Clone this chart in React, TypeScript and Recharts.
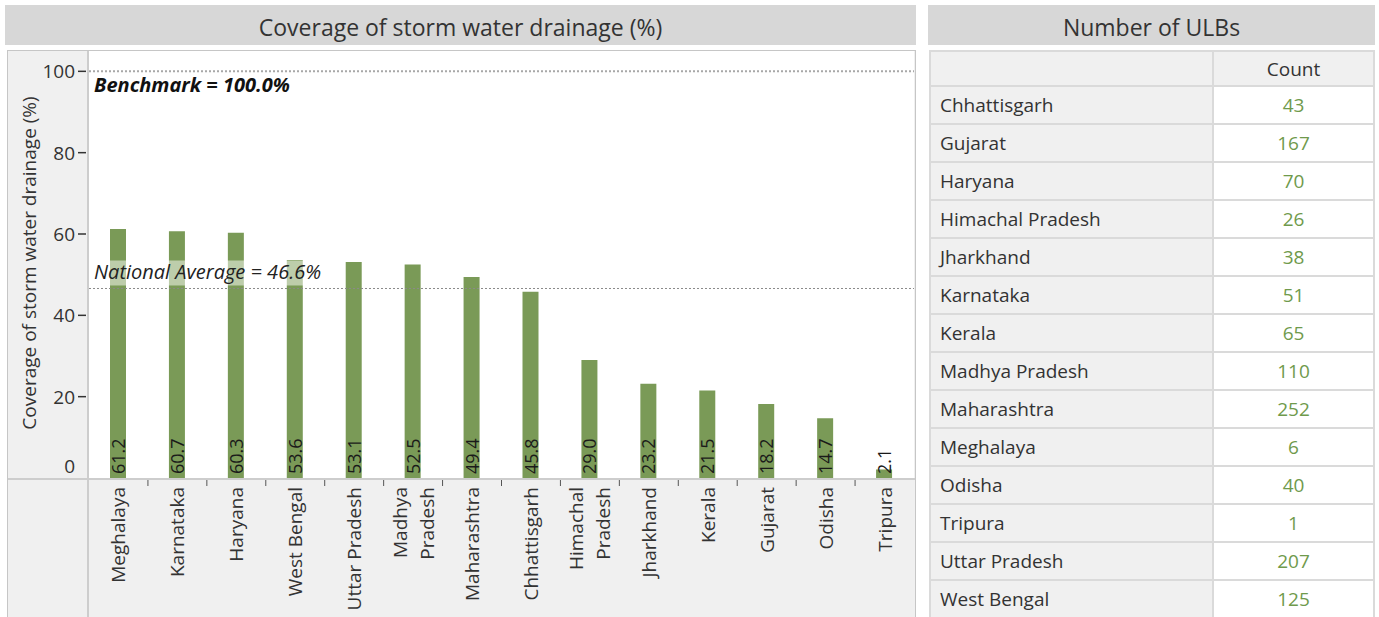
import React from 'react';
import {
  BarChart,
  Bar,
  XAxis,
  YAxis,
  CartesianGrid,
  ReferenceLine,
  LabelList
} from 'recharts';

const states = [
  'Meghalaya', 'Karnataka', 'Haryana', 'West Bengal', 'Uttar Pradesh', 'Madhya Pradesh', 'Maharashtra',
  'Chhattisgarh', 'Himachal Pradesh', 'Jharkhand', 'Kerala', 'Gujarat', 'Odisha', 'Tripura'
];
const stateLabels = [
  'Meghalaya', 'Karnataka', 'Haryana', 'West Bengal', 'Uttar Pradesh', 'Madhya\nPradesh', 'Maharashtra',
  'Chhattisgarh', 'Himachal\nPradesh', 'Jharkhand', 'Kerala', 'Gujarat', 'Odisha', 'Tripura'
];
const coverage = [61.2, 60.7, 60.3, 53.6, 53.1, 52.5, 49.4, 45.8, 29.0, 23.2, 21.5, 18.2, 14.7, 2.1];
const yTicks = [0, 20, 40, 60, 80, 100];
const benchmark = 100;
const nationalAverage = 46.6;

const tableStates = [
  'Chhattisgarh', 'Gujarat', 'Haryana', 'Himachal Pradesh', 'Jharkhand', 'Karnataka', 'Kerala',
  'Madhya Pradesh', 'Maharashtra', 'Meghalaya', 'Odisha', 'Tripura', 'Uttar Pradesh', 'West Bengal'
];
const ulbCounts = [43, 167, 70, 26, 38, 51, 65, 110, 252, 6, 40, 1, 207, 125];

const data = states.map((s, i) => ({ state: s, label: stateLabels[i], coverage: coverage[i] }));

const FONT = "'Segoe UI', 'Open Sans', sans-serif";
const TEXT = '#333333';
const GREEN = '#7a9a57';
const PLOT_W = 825;
const BAND = PLOT_W / states.length;

const StateTick = (props: any) => {
  const { x, index } = props;
  const top = 436;
  const lines = stateLabels[index].split('\n');
  const gap = 27;
  return (
    <g>
      {index < states.length - 1 && (
        <line x1={x + BAND / 2} x2={x + BAND / 2} y1={429} y2={435} stroke="#555" strokeWidth={1} />
      )}
      {lines.map((ln, i) => {
        const cx = x + (i - (lines.length - 1) / 2) * gap;
        return (
          <text
            key={i}
            x={cx}
            y={top}
            transform={`rotate(-90, ${cx}, ${top})`}
            textAnchor="end"
            dominantBaseline="central"
            fontSize={19}
            fill={TEXT}
            fontFamily={FONT}
          >
            {ln}
          </text>
        );
      })}
    </g>
  );
};

const ValueTick = (props: any) => {
  const { y, payload } = props;
  const isZero = payload.value === 0;
  return (
    <g>
      {!isZero && <line x1={70} x2={78} y1={y} y2={y} stroke="#333" strokeWidth={1.5} />}
      <text
        x={67}
        y={isZero ? y - 12 : y}
        textAnchor="end"
        dominantBaseline="central"
        fontSize={19}
        fill={TEXT}
        fontFamily={FONT}
      >
        {payload.value}
      </text>
    </g>
  );
};

const BarValue = (props: any) => {
  const { x, y, width, height, value } = props;
  const cx = x + width / 2;
  const by = y + height - 4;
  return (
    <text
      x={cx}
      y={by}
      transform={`rotate(-90, ${cx}, ${by})`}
      textAnchor="start"
      dominantBaseline="central"
      fontSize={18}
      fill="#1a1a1a"
      fontFamily={FONT}
    >
      {Number(value).toFixed(1)}
    </text>
  );
};

const titleBar: React.CSSProperties = {
  position: 'absolute',
  top: 5,
  height: 40,
  background: '#d7d7d7',
  color: TEXT,
  fontSize: 23,
  lineHeight: '44px',
  textAlign: 'center',
  overflow: 'hidden'
};

const cellBorder = '2px solid #dadada';

export default function App() {
  return (
    <div
      style={{
        position: 'absolute',
        left: 0,
        top: 0,
        width: 1379,
        height: 617,
        overflow: 'hidden',
        background: '#fff',
        fontFamily: FONT
      }}
    >
      {/* chart panel */}
      <div style={{ ...titleBar, left: 5, width: 911 }}>Coverage of storm water drainage (%)</div>
      <div
        style={{
          position: 'absolute',
          left: 7,
          top: 50,
          width: 909,
          height: 580,
          boxSizing: 'border-box',
          border: '1px solid #c6c6c6',
          background: '#f0f0f0'
        }}
      >
        <div style={{ position: 'absolute', left: 79, top: 0, width: 2, height: 580, background: '#cdcdcd' }} />
        <div style={{ position: 'absolute', left: 0, top: 427, width: 907, height: 2, background: '#cdcdcd' }} />
        <div style={{ position: 'absolute', left: 0, top: 0 }}>
          <BarChart width={906} height={566} data={data} margin={{ top: 0, right: 0, bottom: 0, left: 0 }}>
            <CartesianGrid horizontal={false} vertical={false} fill="#ffffff" />
            <XAxis
              dataKey="state"
              interval={0}
              height={139}
              tickLine={false}
              axisLine={false}
              tick={<StateTick />}
            />
            <YAxis
              domain={[0, 105]}
              ticks={yTicks}
              width={81}
              tickLine={false}
              axisLine={false}
              tick={<ValueTick />}
              label={() => (
                <text
                  x={21}
                  y={212}
                  transform="rotate(-90, 21, 212)"
                  textAnchor="middle"
                  dominantBaseline="central"
                  fontSize={19}
                  fill={TEXT}
                  fontFamily={FONT}
                >
                  Coverage of storm water drainage (%)
                </text>
              )}
            />
            <Bar dataKey="coverage" fill={GREEN} barSize={16} isAnimationActive={false}>
              <LabelList dataKey="coverage" content={<BarValue />} />
            </Bar>
            <ReferenceLine
              y={benchmark}
              stroke="#a8a8a8"
              strokeWidth={2}
              strokeDasharray="2 2"
              label={(p: any) => (
                <text
                  x={p.viewBox.x + 5}
                  y={p.viewBox.y + 21}
                  fontSize={20}
                  fontWeight="bold"
                  fontStyle="italic"
                  fill="#111"
                  fontFamily={FONT}
                >
                  {`Benchmark = ${benchmark.toFixed(1)}%`}
                </text>
              )}
            />
            <ReferenceLine
              y={nationalAverage}
              stroke="#8a8a8a"
              strokeWidth={1}
              strokeDasharray="2 2"
              label={(p: any) => (
                <g>
                  <rect x={p.viewBox.x + 3} y={p.viewBox.y - 28} width={235} height={25} fill="#fff" fillOpacity={0.5} />
                  <text
                    x={p.viewBox.x + 5}
                    y={p.viewBox.y - 9}
                    fontSize={20}
                    fontStyle="italic"
                    fill="#222"
                    fontFamily={FONT}
                  >
                    {`National Average = ${nationalAverage}%`}
                  </text>
                </g>
              )}
            />
          </BarChart>
        </div>
      </div>

      {/* table panel */}
      <div style={{ ...titleBar, left: 928, width: 447 }}>Number of ULBs</div>
      <table
        style={{
          position: 'absolute',
          left: 929,
          top: 50,
          width: 446,
          borderCollapse: 'collapse',
          fontSize: 19,
          color: TEXT,
          fontFamily: FONT
        }}
      >
        <tbody>
          <tr style={{ height: 35 }}>
            <td style={{ width: 279, background: '#f0f0f0', border: cellBorder }} />
            <td style={{ background: '#f0f0f0', border: cellBorder, textAlign: 'center', padding: 0 }}>Count</td>
          </tr>
          {tableStates.map((s, i) => (
            <tr key={s} style={{ height: 38 }}>
              <td style={{ background: '#f0f0f0', border: cellBorder, padding: '0 0 0 9px' }}>{s}</td>
              <td style={{ background: '#fff', border: cellBorder, textAlign: 'center', color: '#6f9a4c', padding: 0 }}>
                {ulbCounts[i]}
              </td>
            </tr>
          ))}
        </tbody>
      </table>
    </div>
  );
}
